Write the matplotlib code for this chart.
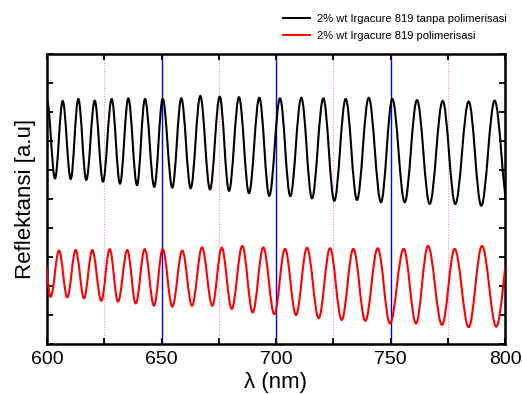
import numpy as np
import matplotlib
matplotlib.use("Agg")
import matplotlib.pyplot as plt
from matplotlib.path import Path
from matplotlib.patches import PathPatch
from matplotlib.lines import Line2D
from matplotlib.ticker import MultipleLocator, NullFormatter

plt.rcParams['font.family'] = ['Liberation Sans', 'DejaVu Sans']

# extrema (peaks / troughs), alternating
black_wl = [600.00, 603.49, 606.86, 610.35, 613.67, 617.16, 620.83, 624.45,
            628.25, 631.88, 635.50, 639.30, 642.79, 646.86, 650.52, 654.72,
            658.65, 662.75, 666.94, 671.18, 675.41, 679.48, 683.84, 688.21,
            692.71, 697.07, 701.75, 706.24, 711.05, 715.72, 720.66, 725.46,
            730.44, 735.37, 740.48, 745.85, 750.79, 756.20, 761.57, 767.12,
            772.79, 778.30, 784.15, 789.65, 795.50, 801.30]
black_val = [8.41, 5.71, 8.38, 5.69, 8.45, 5.66, 8.39, 5.60,
             8.45, 5.53, 8.47, 5.48, 8.45, 5.42, 8.45, 5.39,
             8.47, 5.37, 8.55, 5.33, 8.53, 5.28, 8.51, 5.20,
             8.49, 5.11, 8.47, 5.10, 8.49, 5.02, 8.47, 4.94,
             8.45, 4.97, 8.49, 4.89, 8.45, 4.89, 8.41, 4.83,
             8.38, 4.83, 8.36, 4.77, 8.39, 4.76]

red_wl = [598.43, 601.62, 605.24, 608.86, 612.53, 616.16, 619.78, 623.71,
          627.38, 631.00, 635.07, 638.73, 642.66, 646.72, 650.52, 654.72,
          659.08, 663.32, 667.69, 672.18, 676.29, 680.66, 685.28, 689.83,
          694.45, 699.26, 703.93, 708.73, 713.54, 718.65, 723.58, 728.69,
          733.76, 739.00, 744.41, 749.78, 755.76, 761.14, 766.38, 772.49,
          778.03, 784.15, 789.96, 796.20, 802.18]
red_val = [3.24, 1.63, 3.22, 1.61, 3.24, 1.58, 3.24, 1.49,
           3.27, 1.46, 3.24, 1.40, 3.27, 1.32, 3.27, 1.29,
           3.22, 1.32, 3.33, 1.32, 3.32, 1.21, 3.38, 1.09,
           3.33, 1.03, 3.28, 1.00, 3.32, 0.89, 3.30, 0.83,
           3.28, 0.80, 3.30, 0.71, 3.28, 0.71, 3.38, 0.66,
           3.28, 0.58, 3.38, 0.60, 3.38]

labels = ['2% wt Irgacure 819 tanpa polimerisasi', '2% wt Irgacure 819 polimerisasi']
blue_lines = [650, 700, 750]
pink_lines = [625, 675, 725, 775]


def fringe_path(xs, ys, a=0.364):
    # smooth curve through the extrema, flat tangent at each one
    verts = [(xs[0], ys[0])]
    codes = [Path.MOVETO]
    for i in range(len(xs) - 1):
        dx = xs[i + 1] - xs[i]
        verts += [(xs[i] + a * dx, ys[i]), (xs[i + 1] - a * dx, ys[i + 1]), (xs[i + 1], ys[i + 1])]
        codes += [Path.CURVE4] * 3
    return Path(verts, codes)


fig = plt.figure(figsize=(5.22, 3.94), dpi=100)
ax = fig.add_axes([47 / 522, 50 / 394, 458 / 522, 290 / 394])

for x in pink_lines:
    ax.axvline(x, color='#f080f0', ls=(0, (1, 1.5)), lw=0.8, zorder=1)
for x in blue_lines:
    ax.axvline(x, color='#0000ff', lw=1.0, zorder=1)

ax.add_patch(PathPatch(fringe_path(black_wl, black_val), fc='none', ec='black', lw=1.5, zorder=3))
ax.add_patch(PathPatch(fringe_path(red_wl, red_val), fc='none', ec='#ff0000', lw=1.5, zorder=3))

ax.set_xlim(600, 800)
ax.set_ylim(0, 10)
ax.xaxis.set_major_locator(MultipleLocator(50))
ax.xaxis.set_minor_locator(MultipleLocator(25))
ax.yaxis.set_major_locator(MultipleLocator(1))
ax.yaxis.set_major_formatter(NullFormatter())
ax.tick_params(which='both', direction='in', top=True, right=True, length=4, width=1.3)
ax.tick_params(axis='x', labelsize=14, pad=5)
ax.tick_params(axis='y', left=True, labelleft=False)
for s in ax.spines.values():
    s.set_linewidth(1.8)

ax.set_xlabel('λ (nm)', fontsize=16, labelpad=3)
ax.set_ylabel('Reflektansi [a.u]', fontsize=16, labelpad=8)

handles = [Line2D([], [], color='black', lw=1.4), Line2D([], [], color='#ff0000', lw=1.4)]
ax.legend(handles, labels, loc='upper left', bbox_to_anchor=(283 / 522, 1 - 14 / 394),
          bbox_transform=fig.transFigure, frameon=False, fontsize=8.0,
          handlelength=2.4, handletextpad=0.7, labelspacing=0.6, borderpad=0, borderaxespad=0)

fig.savefig('out.png', dpi=100)
